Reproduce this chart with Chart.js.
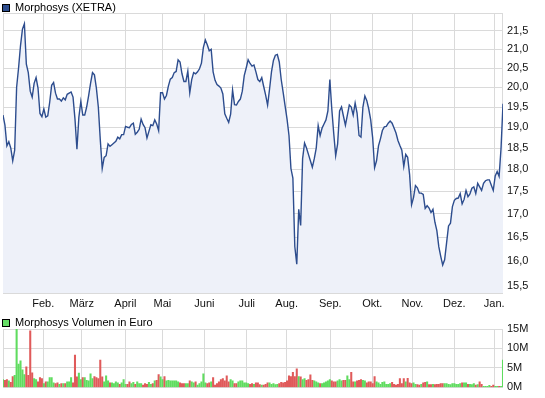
<!DOCTYPE html>
<html>
<head>
<meta charset="utf-8">
<title>Morphosys (XETRA)</title>
<script src="https://cdn.jsdelivr.net/npm/chart.js@4.4.0/dist/chart.umd.min.js"></script>
<style>
    body { margin: 0; background: #fff; font-family: "Liberation Sans", Arial, sans-serif; }
    #wrap { position: relative; width: 545px; height: 398px; overflow: hidden; }
    .legend { position: absolute; left: 2px; font-size: 11px; line-height: 12px; color: #000; white-space: nowrap; }
    .legend i { display: inline-block; width: 6px; height: 6px; border: 1px solid #000; margin-right: 5px; vertical-align: -1px; }
    #priceCanvas { position: absolute; left: 0; top: 0; }
    #volumeCanvas { position: absolute; left: 0; top: 312px; }
</style>
</head>
<body>
<div id="wrap">
    <canvas id="priceCanvas" width="545" height="312"></canvas>
    <canvas id="volumeCanvas" width="545" height="86"></canvas>
    <div class="legend" style="top:1px"><i style="background:#2d4d8e"></i>Morphosys (XETRA)</div>
    <div class="legend" style="top:316px"><i style="background:#66dd66"></i>Morphosys Volumen in Euro</div>
</div>
<script>
// ---- data (one value per trading day) ----
const prices = [
    19.3, 19.05, 18.55, 18.65, 18.5, 18.2, 18.45, 20.0, 20.5, 21.1,
    21.55, 21.7, 20.6, 20.38, 19.9, 19.75, 20.1, 20.25, 19.98, 19.34,
    19.26, 19.45, 19.25, 19.28, 19.62, 20.05, 20.12, 19.85, 19.7, 19.7,
    19.65, 19.73, 19.68, 19.82, 19.85, 19.88, 19.75, 19.2, 18.47, 19.25,
    19.64, 19.3, 19.3, 19.5, 19.78, 20.1, 20.38, 20.32, 19.98, 19.5,
    18.7, 18.02, 18.28, 18.32, 18.6, 18.54, 18.58, 18.62, 18.66, 18.76,
    18.72, 18.82, 18.82, 19.02, 19.0, 18.99, 19.07, 19.1, 18.83, 18.88,
    18.95, 19.2, 19.07, 18.99, 18.74, 18.9, 19.06, 19.04, 19.18, 19.08,
    18.92, 19.86, 19.86, 19.7, 19.79, 20.03, 20.21, 20.25, 20.38, 20.41,
    20.72, 20.66, 20.35, 20.15, 20.15, 20.42, 19.86, 20.2, 20.38, 20.35,
    20.4, 20.48, 20.63, 21.05, 21.25, 21.12, 20.96, 21.0, 20.4, 20.18,
    20.07, 20.03, 19.98, 19.83, 19.33, 19.22, 19.12, 19.32, 19.93, 19.56,
    19.55, 19.64, 19.7, 19.9, 20.3, 20.5, 20.72, 20.62, 20.55, 20.58,
    20.4, 20.2, 20.15, 20.25, 20.02, 19.8, 19.55, 19.95, 20.4, 20.7,
    20.84, 20.86, 20.66, 20.2, 19.87, 19.53, 19.2, 18.8, 18.02, 17.8,
    16.3, 15.94, 17.1, 16.75, 18.25, 18.62, 18.5, 18.35, 18.2, 18.05,
    18.25, 18.5, 19.04, 18.8, 18.98, 19.08, 19.18, 19.4, 20.2, 19.45,
    18.85, 18.32, 18.6, 19.4, 19.5, 19.27, 19.05, 19.3, 19.55, 19.5,
    19.3, 19.6, 19.35, 18.8, 18.76, 19.5, 19.78, 19.66, 19.45, 19.18,
    18.75, 18.04, 18.2, 18.55, 18.72, 18.92, 19.01, 19.02, 19.1, 19.15,
    19.1, 18.98, 18.86, 18.68, 18.56, 18.45, 18.07, 18.35, 18.28, 17.88,
    17.2, 17.36, 17.63, 17.58, 17.46, 17.46, 17.43, 17.12, 17.18, 17.13,
    17.03, 17.1, 16.82, 16.64, 16.3, 16.1, 15.92, 16.03, 16.38, 16.74,
    16.8, 17.16, 17.3, 17.34, 17.35, 17.45, 17.22, 17.32, 17.52, 17.38,
    17.44, 17.57, 17.6, 17.45, 17.68, 17.6, 17.52, 17.68, 17.74, 17.76,
    17.76, 17.64, 17.52, 17.85, 17.95, 17.84, 18.5, 19.58
];

// volume in million euro
const volumes = [
    2.0, 1.8, 2.0, 1.7, 1.3, 2.8, 3.1, 15.0, 6.0, 6.8, 4.5, 3.3, 5.3, 3.1, 14.5, 3.75, 2.25, 2.0, 1.4, 2.5, 2.25, 1.0, 1.4, 1.4,
    2.5, 2.5, 1.2, 1.0, 1.2, 0.8, 1.0, 1.0, 1.0, 1.4, 1.4, 2.5, 1.2, 8.3, 2.7, 3.7, 2.0, 2.5, 2.5, 1.8, 1.7, 3.5, 2.25, 2.8,
    2.5, 2.25, 7.0, 2.7, 1.4, 3.0, 1.7, 1.2, 1.2, 1.0, 1.4, 1.2, 0.8, 1.2, 2.0, 0.8, 0.8, 1.4, 1.0, 1.3, 0.8, 1.4, 1.0, 1.0,
    0.6, 1.0, 0.8, 1.3, 0.8, 1.0,
    1.7, 1.8, 3.3, 2.7, 2.0, 2.8, 1.7, 1.8, 1.7, 1.7, 1.7, 1.7, 1.4, 1.2, 1.0, 1.0, 1.0, 1.0, 1.7, 1.4, 1.2, 1.4, 0.6, 1.0,
    1.4, 3.5, 1.2, 1.0, 1.2, 1.4, 2.5, 0.6, 1.0, 1.4, 2.0, 2.25, 1.7, 3.0, 1.4, 2.0, 1.7, 1.0, 1.0, 1.4, 1.7, 1.7, 1.2, 1.2,
    1.0, 0.8, 1.0, 0.8, 1.2, 1.2, 0.7, 0.6, 0.6, 0.8, 1.2, 1.2, 0.8, 1.0, 0.7, 0.8, 1.0, 1.3, 1.2, 1.3,
    1.7, 3.0, 2.8, 3.9, 2.8, 4.8, 2.8, 2.7, 2.0, 2.25, 1.8, 2.0, 3.25, 1.8, 1.7, 1.4, 1.2, 1.0, 1.0, 1.2, 1.4, 1.7, 2.0, 1.7,
    1.4, 1.4, 1.7, 2.0, 1.7, 1.8, 1.8, 3.0, 2.0, 3.9, 1.4, 1.4, 1.7, 1.8, 2.0, 1.8, 1.7, 1.2, 1.4, 1.4, 1.0, 2.75, 1.4, 1.2,
    0.8, 1.3, 1.4, 0.8, 0.8, 1.0, 1.3, 0.8, 0.6, 0.8,
    2.25, 1.0, 2.25, 1.4, 2.3, 1.2, 1.0, 1.2, 0.8, 0.7, 0.6, 0.8, 1.2, 1.3, 1.4, 0.7, 0.7, 0.8, 0.7, 0.8, 0.8, 1.0, 1.0, 1.0,
    1.0, 0.8, 0.7, 1.0, 1.0, 0.8, 0.8, 1.0, 1.2, 1.2, 1.2, 0.8, 0.8, 0.7, 1.0, 0.6, 0.7, 1.4, 0.8, 0.3, 0.3, 0.3, 0.5, 0.3,
    0.6, 0.3, 0.3, 0.3, 0.3, 7.0
];

// month starts (trading day position) and their labels
const monthTicks = [20.7, 40.5, 62.9, 81.9, 103.5, 125.3, 145.8, 168.2, 189.8, 210.4, 232, 252.5];
const monthLabels = ['Feb.', 'März', 'April', 'Mai', 'Juni', 'Juli', 'Aug.', 'Sep.', 'Okt.', 'Nov.', 'Dez.', 'Jan.'];
const priceTicks = [15.5, 16, 16.5, 17, 17.5, 18, 18.5, 19, 19.5, 20, 20.5, 21, 21.5];
const volumeTicks = [0, 5, 10, 15];

// ---- styles ----
const GRID = '#dadada';
const LINE = '#2d4d8e';
const AREA = '#eef1f9';
const UP = '#5fdc5f';
const DOWN = '#e05a5a';

Chart.defaults.font.family = "'Liberation Sans', Arial, sans-serif";
Chart.defaults.font.size = 11;
Chart.defaults.color = '#111';

// light grey box around the plot area
const frame = {
    id: 'frame',
    beforeDatasetsDraw(chart) {
        const a = chart.chartArea;
        const ctx = chart.ctx;
        ctx.save();
        ctx.strokeStyle = GRID;
        ctx.lineWidth = 1;
        ctx.strokeRect(Math.round(a.left) + 0.5, Math.round(a.top) + 0.5,
            Math.round(a.right - a.left) - 1, Math.round(a.bottom - a.top));
        ctx.restore();
    }
};

const xDays = (showLabels, h) => ({
    type: 'linear',
    min: 0,
    max: prices.length - 1,
    offset: false,
    afterBuildTicks: s => { s.ticks = monthTicks.map(v => ({ value: v })); },
    afterFit: s => { s.height = h; },
    ticks: {
        display: showLabels,
        autoSkip: false,
        maxRotation: 0,
        padding: 4,
        callback: (v, i) => monthLabels[i]
    },
    grid: { color: GRID, drawTicks: false, offset: false },
    border: { display: false }
});

new Chart(document.getElementById('priceCanvas'), {
    type: 'line',
    data: {
        datasets: [{
            label: 'Morphosys (XETRA)',
            data: prices.map((v, i) => ({ x: i, y: v })),
            borderColor: LINE,
            borderWidth: 1.4,
            backgroundColor: AREA,
            fill: 'start',
            pointRadius: 0,
            tension: 0
        }]
    },
    options: {
        responsive: false,
        animation: false,
        layout: { padding: { left: 3, top: 13, right: 0, bottom: 0 } },
        plugins: { legend: { display: false }, tooltip: { enabled: false } },
        scales: {
            x: xDays(true, 19),
            y: {
                type: 'logarithmic',
                position: 'right',
                min: 15.36,
                max: 22.0,
                afterBuildTicks: s => { s.ticks = priceTicks.map(v => ({ value: v })); },
                afterFit: s => { s.width = 42; },
                ticks: {
                    padding: 4,
                    callback: v => v.toFixed(1).replace('.', ',')
                },
                grid: { color: GRID, drawTicks: false },
                border: { display: false }
            }
        }
    },
    plugins: [frame]
});

new Chart(document.getElementById('volumeCanvas'), {
    type: 'bar',
    data: {
        datasets: [{
            label: 'Morphosys Volumen in Euro',
            data: volumes.map((v, i) => ({ x: i, y: v })),
            backgroundColor: volumes.map((v, i) => (i > 0 && prices[i] < prices[i - 1]) ? DOWN : UP),
            barThickness: 1.4,
            borderWidth: 0
        }]
    },
    options: {
        responsive: false,
        animation: false,
        layout: { padding: { left: 3, top: 17, right: 0, bottom: 9 } },
        plugins: { legend: { display: false }, tooltip: { enabled: false } },
        scales: {
            x: xDays(false, 0),
            y: {
                position: 'right',
                min: 0,
                max: 15,
                afterBuildTicks: s => { s.ticks = volumeTicks.map(v => ({ value: v })); },
                afterFit: s => { s.width = 42; },
                ticks: { padding: 4, callback: v => v + 'M' },
                grid: { color: GRID, drawTicks: false },
                border: { display: false }
            }
        }
    },
    plugins: [frame]
});
</script>
</body>
</html>
